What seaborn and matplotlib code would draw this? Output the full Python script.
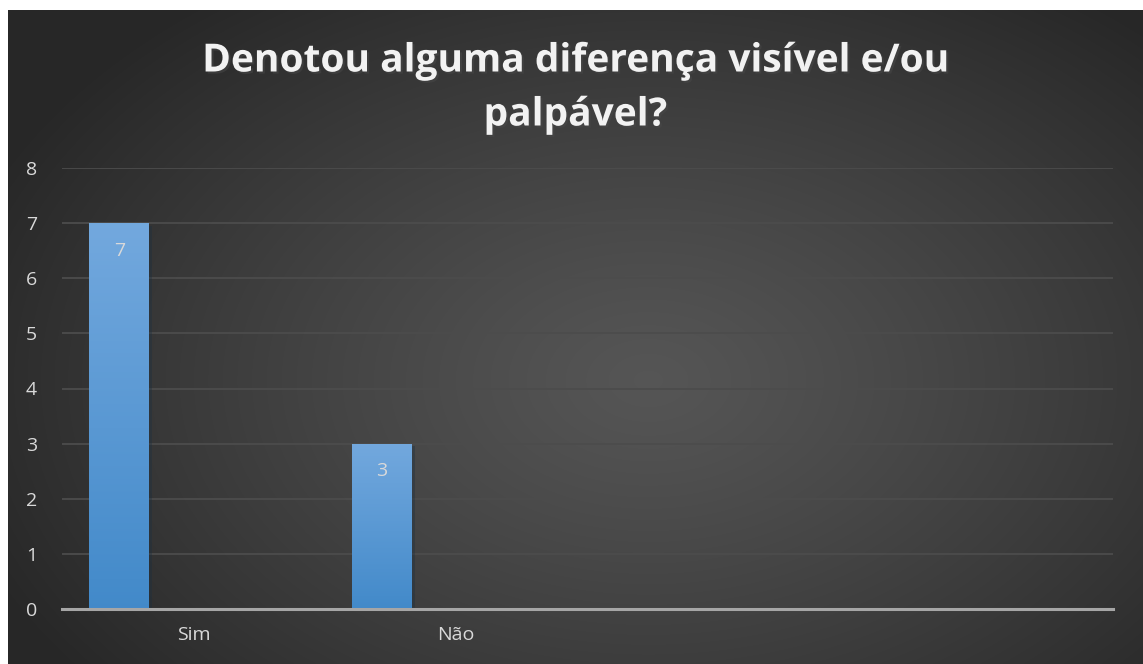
import numpy as np
import matplotlib
matplotlib.use("Agg")
import matplotlib.pyplot as plt
import matplotlib.patheffects as pe
import seaborn as sns

# data
categories = ["Sim", "Não", " ", "  "]
values = [7, 3, np.nan, np.nan]
yticks = [0, 1, 2, 3, 4, 5, 6, 7, 8]
title = "Denotou alguma diferença visível e/ou\npalpável?"

sns.set_theme(style="dark")
plt.rcParams['font.family'] = ['Open Sans', 'DejaVu Sans']

W, H = 1143, 664
fig = plt.figure(figsize=(W / 100, H / 100), dpi=100, facecolor="white")

# radial gradient background (chart area starts 8px from left, 10px from top)
bg = fig.add_axes([8 / W, 0, 1 - 8 / W, 654 / H], zorder=-1)
yy, xx = np.mgrid[0:654, 0:1135]
r = np.sqrt(((xx - 640) / 720.0) ** 2 + ((yy - 370) / 480.0) ** 2)
r = np.clip(r, 0, 1)
c = 0.335 - (0.335 - 0.155) * r ** 1.2
bg.imshow(np.dstack([c, c, c]), aspect="auto", extent=[0, 1, 0, 1], origin="upper")
bg.set_axis_off()

ax = fig.add_axes([62 / W, 1 - 609 / H, (1113 - 62) / W, (609 - 168) / H])
ax.set_facecolor("none")

sns.barplot(x=categories, y=values, ax=ax, color="#5b9bd5", width=0.228,
            saturation=1, zorder=3)

# shift bars left inside each category slot, paint gradient, add labels
grad = np.linspace(0, 1, 256).reshape(-1, 1)
top = np.array([0.45, 0.66, 0.87])
bot = np.array([0.26, 0.54, 0.79])
img = top[None, None, :] * (1 - grad[:, :, None]) + bot[None, None, :] * grad[:, :, None]
for p, v in zip(ax.patches, values):
    if np.isnan(v):
        continue
    p.set_x(p.get_x() - 0.282)
    p.set_linewidth(0)
    p.set_path_effects([pe.SimplePatchShadow(offset=(2, -2), alpha=0.35), pe.Normal()])
    x0, w, h = p.get_x(), p.get_width(), p.get_height()
    im = ax.imshow(img, extent=[x0, x0 + w, 0, h], aspect="auto", zorder=4,
                   origin="upper")
    im.set_clip_path(p)
    ax.text(x0 + w / 2, h - 0.5, f"{int(v)}", ha="center", va="center",
            color="#d9d9d9", fontsize=14, zorder=5)

ax.set_xlim(-0.5, len(categories) - 0.5)
ax.set_ylim(0, 8)
ax.set_yticks(yticks)
ax.set_yticklabels([str(t) for t in yticks])
ax.grid(axis="y", color="#4c4c4c", linewidth=1.3, zorder=1)
ax.grid(axis="x", visible=False)
for s in ["top", "right", "left"]:
    ax.spines[s].set_visible(False)
ax.spines["bottom"].set_color("#a6a6a6")
ax.spines["bottom"].set_linewidth(2.2)
ax.spines["bottom"].set_zorder(6)
ax.tick_params(axis="both", length=0, colors="#d9d9d9", labelsize=14)
ax.tick_params(axis="y", pad=18)
ax.tick_params(axis="x", pad=12)
ax.set_xlabel("")
ax.set_ylabel("")

fig.text(575 / W, 1 - 88 / H, title, ha="center", va="center", color="#f2f2f2",
         fontsize=28, fontweight="bold", linespacing=1.5,
         path_effects=[pe.withSimplePatchShadow(offset=(1.5, -1.5), alpha=0.5)])

fig.savefig("out.png", dpi=100, facecolor="white")
